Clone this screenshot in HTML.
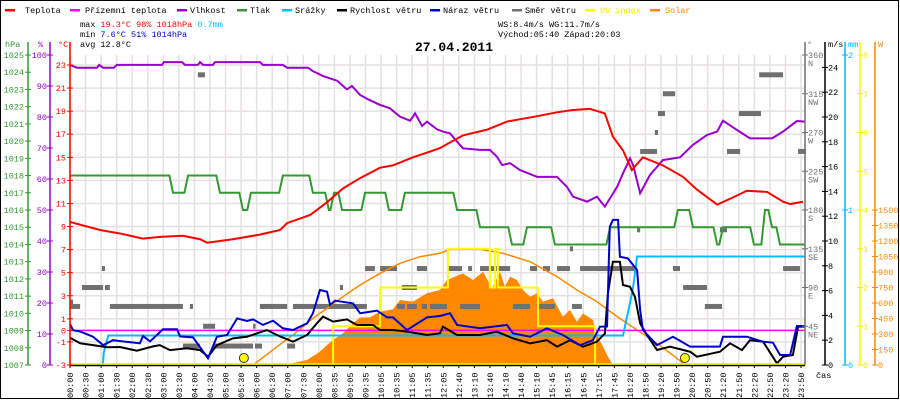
<!DOCTYPE html>
<html><head><meta charset="utf-8"><style>
html,body{margin:0;padding:0;background:#fff}
svg{display:block;font-family:"Liberation Mono",monospace}
</style></head><body>
<svg id="c" width="900" height="400" viewBox="0 0 900 400" xmlns="http://www.w3.org/2000/svg">
<rect x="0.5" y="0.5" width="898" height="398" fill="#fff" stroke="#000"/>
<g id="legend" font-size="8.5">
<g><rect x="5" y="9" width="10" height="2.5" fill="#f00"/><text x="25" y="13">Teplota</text></g>
<g><rect x="70" y="9" width="10" height="2.5" fill="#f0f"/><text x="85" y="13">Přízemní teplota</text></g>
<g><rect x="177" y="9" width="10" height="2.5" fill="#90c"/><text x="190" y="13">Vlhkost</text></g>
<g><rect x="237" y="9" width="10" height="2.5" fill="#393"/><text x="250" y="13">Tlak</text></g>
<g><rect x="282" y="9" width="10" height="2.5" fill="#0bf"/><text x="295" y="13">Srážky</text></g>
<g><rect x="337" y="9" width="10" height="2.5" fill="#000"/><text x="350" y="13">Rychlost větru</text></g>
<g><rect x="430" y="9" width="10" height="2.5" fill="#00c"/><text x="443" y="13">Náraz větru</text></g>
<g><rect x="512" y="9" width="10" height="2.5" fill="#707070"/><text x="525" y="13">Směr větru</text></g>
<g><rect x="585" y="9" width="10" height="2.5" fill="#ff0"/><text x="600" y="13" fill="#ee0">UV index</text></g>
<g><rect x="650" y="9" width="10" height="2.5" fill="#f80"/><text x="665" y="13" fill="#f80">Solar</text></g>
</g>
<g font-size="8.5">
<text x="80" y="27">max <tspan fill="#f00">19.3°C</tspan>  <tspan fill="#f00">98%</tspan>  <tspan fill="#f00">1018hPa</tspan>      <tspan fill="#0bf">0.7mm</tspan></text>
<text x="80" y="37">min  <tspan fill="#00c">7.6°C</tspan>  <tspan fill="#00c">51%</tspan>  <tspan fill="#00c">1014hPa</tspan></text>
<text x="80" y="47">avg 12.8°C</text>
<text x="498" y="27">WS:8.4m/s    WG:11.7m/s</text>
<text x="498" y="37">Východ:05:40  Západ:20:03</text>
</g>
<text x="415" y="51" font-size="13" font-weight="bold">27.04.2011</text>
<g id="grid"></g><g id="series"></g><g id="axes"></g>
</svg>
<script>
// ---- data (hours, value) ----
const tempT=[0,0.98,1.63,2.38,2.93,3.68,4.24,4.47,5.31,6.19,6.85,7.08,7.83,8.38,8.9,9.46,10.11,10.53,11.18,11.74,12.06,12.81,13.6,14.25,15.1,15.88,16.4,16.95,17.44,17.7,18.03,18.32,18.68,19.33,19.99,20.44,21.1,21.52,22.07,22.73,23.25,23.48,23.9];
const tempV=[9.4,8.7,8.4,7.95,8.1,8.2,7.9,7.6,7.9,8.3,8.7,9.3,10.0,11.1,12.3,13.2,14.1,14.3,15.0,15.5,15.8,16.9,17.4,18.1,18.5,18.9,19.1,19.2,18.8,16.8,15.6,13.9,15.0,14.3,13.3,12.2,10.9,11.4,12.1,12.0,11.15,10.95,11.15];
const humT=[0,0.23,0.88,0.95,1.08,1.43,1.53,3.0,3.06,3.65,3.75,4.17,4.24,4.34,4.66,4.73,6.19,6.29,6.94,7.08,7.76,7.92,8.25,8.71,9.03,9.19,9.46,9.72,10.11,10.43,10.76,11.09,11.25,11.48,11.64,11.97,12.16,12.39,12.81,13.37,13.69,13.92,14.09,14.35,14.67,15.23,15.88,16.2,16.4,16.86,17.18,17.44,17.84,18.03,18.26,18.36,18.59,18.91,19.33,19.89,20.31,20.77,21.1,21.29,21.75,22.17,22.89,23.25,23.7,23.96];
const humV=[96.8,95.9,95.9,96.8,95.9,95.9,96.8,96.8,97.7,97.7,96.8,96.8,97.7,96.8,96.8,97.7,97.7,96.8,96.8,95.9,95.9,94.8,93.2,91.7,88.9,90,87.1,85.7,83.9,82.8,80.1,78.8,81.2,77.1,78.5,76.0,75.3,74.7,69.9,69.4,69.4,67.2,64.5,65.1,62.9,60.7,60.7,57.5,54.3,52.7,54.3,51.1,57.5,61.8,66.7,64.5,55.4,61.3,66.1,67.0,71,74.2,75.3,78.8,75.8,73.1,73.1,75.3,78.7,78.5];
const presT=[0,3.36,3.85,4.89,5.64,5.9,6.94,7.92,8.44,8.61,8.87,9.62,10.4,10.92,12.62,13.37,14.41,14.9,15.81,17.61,19.82,20.31,21.1,21.29,22.3,22.66,22.89,23.15];
const presV=[1018,1017,1018,1017,1016,1017,1018,1017,1016,1017,1016,1017,1016,1017,1016,1015,1014,1015,1014,1015,1016,1015,1014,1015,1014,1016,1015,1014];
const windT=[0,0.33,0.75,1.21,1.63,2.18,2.71,2.93,3.26,3.81,4.24,4.5,4.79,5.31,5.77,6.42,6.85,7.27,7.73,8.05,8.25,8.58,9.03,9.36,9.88,10.11,10.53,10.99,11.64,12.06,12.16,12.62,13.37,13.92,14.44,15.0,15.55,15.88,16.3,16.73,17.18,17.44,17.54,17.7,17.93,18.03,18.26,18.42,18.59,18.81,19.14,19.56,20.22,20.44,21.19,21.52,21.91,22.17,22.6,23.05,23.25,23.57,23.74,23.96];
const windV=[2.2,1.75,1.6,1.43,1.45,1.15,1.5,1.6,1.2,1.35,1.2,0.67,1.6,2.15,2.28,2.82,2.3,1.88,2.42,3.36,3.9,3.5,3.68,3.23,3.23,2.82,2.82,2.69,2.42,2.55,3.09,2.42,2.42,2.69,2.15,1.75,2.0,1.48,2.0,1.48,1.88,2.55,5.78,8.33,8.33,6.45,6.31,5.5,3.36,2.42,1.21,1.48,1.07,0.67,1.07,1.75,1.2,2.0,1.88,0.13,0.67,0.81,3.09,3.09];
const gustT=[0,0.1,0.33,0.75,1.08,1.4,1.73,2.28,2.38,2.61,3.03,3.49,3.59,4.01,4.5,4.79,5.12,5.45,5.77,5.97,6.29,6.62,6.94,7.27,7.73,7.92,8.15,8.38,8.48,8.64,9.23,9.46,10.01,10.34,10.53,10.99,11.64,12.06,12.39,12.62,13.37,14.25,14.44,15.0,15.55,16.07,16.63,17.05,17.28,17.51,17.6,17.7,17.87,17.93,18.19,18.49,18.59,18.68,19.14,19.66,20.22,21.19,21.29,22.07,22.6,22.92,23.15,23.48,23.7,23.96];
const gustV=[3.3,2.8,2.7,2.28,1.6,2.0,1.9,1.75,2.34,1.9,2.88,2.88,2.3,2.23,0.54,2.28,2.42,3.76,3.55,3.68,3.23,3.57,2.96,2.82,3.36,4.17,6.05,5.91,4.84,5.19,4.97,4.17,4.38,3.84,3.84,2.82,3.84,3.95,4.17,3.23,2.96,3.23,2.55,2.28,2.96,2.42,1.6,2.0,3.09,3.1,11.15,11.7,11.7,8.73,8.6,7.66,4.43,2.82,1.6,2.28,1.48,1.48,2.28,2.28,1.88,1.8,0.81,0.81,3.15,3.15];
const rainT=[0,1.07,1.1,1.25,18.03,18.26,18.36,18.49,23.96];
const rainV=[0,0,0.08,0.19,0.19,0.4,0.5,0.7,0.7];
const uvT=[0,8.58,10.11,12.32,13.69,13.86,13.95,15.26,17.12];
const uvV=[0,1,2,3,2,3,2,1,0];
const solarMaxT=[5.97,6.75,7.27,7.92,8.38,8.9,9.46,10.11,10.76,11.41,12.06,12.39,13.37,14.12,15.0,15.88,16.53,17.18,17.84,18.49,19.14,19.79,19.99,20.05];
const solarMaxV=[0,177,290,451,548,661,774,887,984,1048,1081,1119,1119,1081,1000,855,726,613,468,339,210,65,16,0];
const solarT=[7.17,7.27,7.73,8.15,8.38,8.58,8.9,9.23,9.46,9.78,10.11,10.53,10.76,11.18,11.64,12.06,12.29,12.81,13.14,13.47,13.76,14.02,14.18,14.35,14.57,14.77,15.0,15.23,15.42,15.75,16.07,16.3,16.53,16.73,17.05,17.18,17.38,17.54,17.7];
const solarV=[0,19,48,129,194,242,307,403,461,461,516,539,629,613,694,726,823,887,823,903,742,903,758,855,823,726,661,694,613,645,468,532,419,500,435,290,177,81,0];
const dirStart=[0,0,0.39,1.14,1.04,1.3,3.91,3.68,4.66,6.03,7.08,4.34,5.97,6.19,7.27,8.8,9.62,10.11,11.31,10.82,10.66,10.99,11.47,11.8,12.32,12.98,13.37,15.0,15.42,15.88,16.63,19.66,23.25,11.74,12.72,14.44,15.23,16.37,20.7,19.99,16.3,4.17,18.59,19.07,19.17,19.33,21.42,21.81,22.47,23.74,18.49,21.19];
const dirEnd=[0.1,0.33,1.08,1.3,1.14,3.68,4.01,4.24,5.97,6.26,7.34,4.73,6.03,7.08,9.68,8.9,9.94,10.66,11.64,11.31,10.92,11.31,11.64,12.06,12.78,13.11,14.35,15.23,15.65,16.3,18.49,19.89,23.8,12.29,13.37,15.0,15.81,16.69,21.26,20.77,16.4,4.4,19.14,19.17,19.4,19.73,21.85,22.53,23.25,24.0,18.59,21.42];
const dirDeg=[73,68,90,90,112,68,68,22,22,22,22,45,45,68,68,90,112,112,112,90,68,68,68,68,112,112,112,112,112,112,112,112,112,68,68,68,68,68,68,90,135,337,248,270,292,315,248,292,337,248,157,157];
const tickLabels=["00:00","00:30","01:00","01:30","02:00","02:30","03:00","03:30","04:00","04:30","05:00","05:30","06:00","06:30","07:00","07:30","08:00","08:35","09:05","09:35","10:05","10:35","11:05","11:35","12:05","12:40","13:10","13:40","14:10","14:40","15:10","15:45","16:15","16:45","17:15","17:45","18:20","18:50","19:20","19:50","20:20","20:50","21:20","21:50","22:20","22:50","23:20","23:50"];
const hpaTicks=[1007,1008,1009,1010,1011,1012,1013,1014,1015,1016,1017,1018,1019,1020,1021,1022,1023,1024,1025];
const pctTicks=[0,10,20,30,40,50,60,70,80,90,100];
const tempTicks=[-3,-1,0,1,3,5,7,9,11,13,15,17,19,21,23];
const degTicks=[45,90,135,180,225,270,315,360];
const degNames=["NE","E","SE","S","SW","W","NW","N"];
const msTicks=[0,2,4,6,8,10,12,14,16,18,20,22,24];
const mmTicks=[0,1,2];
const uvTicks=[0,1,2,3,4,5,6,7,8];
const wTicks=[0,150,300,450,600,750,900,1050,1200,1350,1500];

// ---- scales ----
const X0=70,X1=805,YT=55,YB=365;
const xH=h=>X0+h*30.67;
const lin=(a,b)=>v=>YB-(v-a)/(b-a)*(YB-YT);
const yT=v=>YB-(v+3)*(300/26);
const yP=lin(1007,1025), yH=lin(0,100), yDeg=lin(0,360), yMs=lin(0,25), yMm=lin(0,2), yUv=lin(0,8), yW=lin(0,3000);
const NS="http://www.w3.org/2000/svg";
function mk(parent,tag,attrs,txt){const e=document.createElementNS(NS,tag);for(const k in attrs)e.setAttribute(k,attrs[k]);if(txt!==undefined)e.textContent=txt;parent.appendChild(e);return e;}
const G=document.getElementById('grid'),S=document.getElementById('series'),A=document.getElementById('axes');
const tickX=i=>X0+i*(801-X0)/47;

// grid
tickLabels.forEach((l,i)=>{const g=mk(G,'line',{x1:tickX(i),x2:tickX(i),y1:YT,y2:YB,stroke:'#e6e1e1','stroke-width':1.5});

});
tempTicks.filter(t=>t!==0&&t!==-3).forEach(t=>{const g=mk(G,'line',{x1:X0,x2:X1,y1:yT(t),y2:yT(t),stroke:'#e6e1e1','stroke-width':1.5});

});

function path(ts,vs,ys,step){let d='';ts.forEach((t,i)=>{const x=xH(t),y=ys(vs[i]);if(i===0)d='M'+x+','+y;else{if(step)d+=' L'+x+','+ys(vs[i-1]);d+=' L'+x+','+y;}});return d;}

// solar fill
{let d='M'+xH(solarT[0])+','+YB;solarT.forEach((t,i)=>d+=' L'+xH(t)+','+yW(solarV[i]));d+=' L'+xH(solarT[solarT.length-1])+','+YB+'Z';
const p=mk(S,'path',{d:d,fill:'#f80'});

}
// wind direction
dirDeg.forEach((dg,i)=>{const r=mk(S,'rect',{x:xH(dirStart[i]),y:yDeg(dg)-2.5,width:Math.max(2.5,xH(dirEnd[i])-xH(dirStart[i])),height:5,fill:'#707070'});

});
// solar max
{const p=mk(S,'path',{d:path(solarMaxT,solarMaxV,yW),fill:'none',stroke:'#f80','stroke-width':1.5});

}
// zero line
{const l=mk(S,'line',{x1:X0,x2:X1,y1:yT(0),y2:yT(0),stroke:'#f0f','stroke-width':1.5});

}
// UV
{const p=mk(S,'path',{d:path(uvT.concat([23.96]),uvV.concat([0]),yUv,true),fill:'none',stroke:'#ff0','stroke-width':2});

}
// rain
{const p=mk(S,'path',{d:path(rainT,rainV,yMm),fill:'none',stroke:'#0bf','stroke-width':2});

}
// pressure (step with ramp)
{let d='M'+xH(0)+','+yP(presV[0]);for(let i=1;i<presT.length;i++){d+=' L'+xH(presT[i]-0.12)+','+yP(presV[i-1])+' L'+xH(presT[i])+','+yP(presV[i]);}d+=' L'+xH(23.96)+','+yP(presV[presV.length-1]);
const p=mk(S,'path',{d:d,fill:'none',stroke:'#393','stroke-width':2});

}
{const p=mk(S,'path',{d:path(humT,humV,yH),fill:'none',stroke:'#90c','stroke-width':2});

}
{const p=mk(S,'path',{d:path(tempT,tempV,yT),fill:'none',stroke:'#f00','stroke-width':2});

}
{const p=mk(S,'path',{d:path(windT,windV,yMs),fill:'none',stroke:'#000','stroke-width':2});

}
{const p=mk(S,'path',{d:path(gustT,gustV,yMs),fill:'none',stroke:'#00c','stroke-width':2});

}
[5.67,20.05].forEach(h=>{const c=mk(S,'circle',{cx:xH(h),cy:358,r:4.5,fill:'#ff0',stroke:'#333','stroke-width':1});

});
// bottom axis
{const l=mk(A,'line',{x1:X0,x2:X1,y1:YB+0.5,y2:YB+0.5,stroke:'#000','stroke-width':1.5});}
{const l=mk(A,'line',{x1:X0,x2:X1,y1:YB-1,y2:YB-1,stroke:'#ee0','stroke-width':1.5});}
tickLabels.forEach((l,i)=>{const x=tickX(i);mk(A,'line',{x1:x,x2:x,y1:YB,y2:YB+3,stroke:'#000'});
const t=mk(A,'text',{x:0,y:0,'font-size':8.5,transform:'translate('+(x+3)+',398) rotate(-90)'},l);

});
mk(A,'text',{x:816,y:378,'font-size':8.5},'čas');
// vertical axes
function vaxis(x,color,name){const l=mk(A,'line',{x1:x,x2:x,y1:42,y2:YB,stroke:color,'stroke-width':1.5});

}
vaxis(28,'#393','hpa-axis');vaxis(50,'#90c','humidity-axis');vaxis(70,'#f00','temp-axis');
vaxis(805,'#707070','direction-axis');vaxis(825,'#000','wind-axis');vaxis(845,'#0bf','precip-axis');vaxis(860,'#ff0','uv-axis');vaxis(875,'#f80','solar-axis');
function ticks(vals,ys,x,color,anchor,dx,labels){vals.forEach((v,i)=>{const y=ys(v);mk(A,'line',{x1:x-3,x2:x+3,y1:y,y2:y,stroke:color});
const t=mk(A,'text',{x:x+dx,y:y+3,'font-size':8.5,fill:color,'text-anchor':anchor},labels?labels[i]:String(v));

});}
ticks(hpaTicks,yP,28,'#393','end',-4);
ticks(pctTicks,yH,50,'#90c','end',-3);
ticks(tempTicks,yT,70,'#f00','end',-4);
ticks(degTicks,yDeg,805,'#707070','start',3);
degTicks.forEach((v,i)=>mk(A,'text',{x:808,y:yDeg(v)+11,'font-size':8.5,fill:'#707070'},degNames[i]));
ticks(msTicks,yMs,825,'#000','start',3);
ticks(mmTicks,yMm,845,'#0bf','start',3);
ticks(uvTicks,yUv,860,'#ee0','start',3);
ticks(wTicks,yW,875,'#f80','start',3);
[[5,'hPa','#393'],[38,'%','#90c'],[58,'°C','#f00'],[807,'°','#707070'],[828,'m/s','#000'],[848,'mm','#0bf'],[878,'W','#f80']].forEach(a=>{const t=mk(A,'text',{x:a[0],y:47,'font-size':8.5,fill:a[2]},a[1]);

});
</script>
</body></html>
